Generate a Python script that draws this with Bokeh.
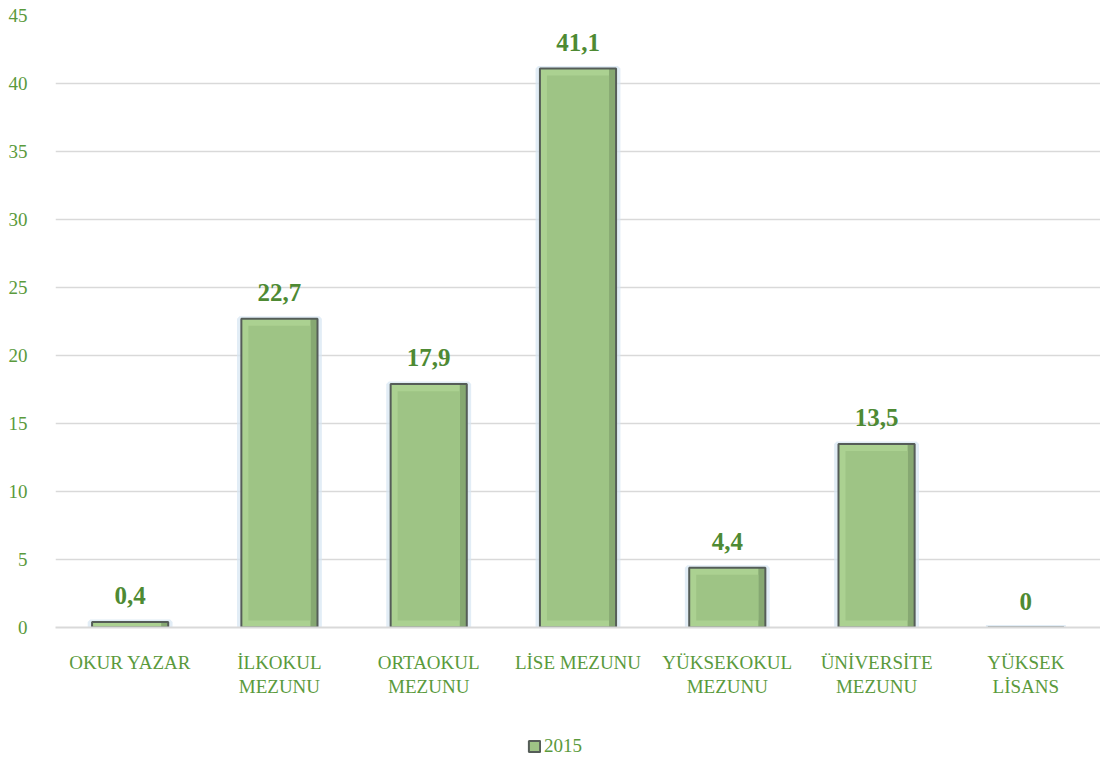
from bokeh.plotting import figure
from bokeh.layouts import column
from bokeh.models import ColumnDataSource, LabelSet, Legend, LegendItem, FixedTicker, Range1d, FactorRange
from bokeh.transform import dodge
from bokeh.embed import file_html
from bokeh.resources import INLINE

categories = ["OKUR YAZAR", "İLKOKUL\nMEZUNU", "ORTAOKUL\nMEZUNU", "LİSE MEZUNU",
              "YÜKSEKOKUL\nMEZUNU", "ÜNİVERSİTE\nMEZUNU", "YÜKSEK\nLİSANS"]
values = [0.4, 22.7, 17.9, 41.1, 4.4, 13.5, 0.0]
value_labels = ["0,4", "22,7", "17,9", "41,1", "4,4", "13,5", "0"]
series_name = "2015"
y_ticks = [0, 5, 10, 15, 20, 25, 30, 35, 40, 45]

FONT = "Liberation Serif"
GREEN_TXT = "#5a9a3c"
GREEN_LBL = "#4e8a33"
BAR_DARK = "#86a872"
BAR_RIM = "#abd191"
BAR_FILL = "#9ec485"
BAR_LINE = "#555d58"
BAR_W = 0.51
BEVEL_Y = 0.52   # bevel depth in value units (style only)
BEVEL_X = 0.047  # bevel depth in category units (style only)

inner_top = [v - BEVEL_Y if v > 2 * BEVEL_Y else float("nan") for v in values]
src = ColumnDataSource(dict(cat=categories, val=values, lab=value_labels, itop=inner_top))

p = figure(x_range=FactorRange(*categories, range_padding=0), y_range=Range1d(0, 45),
           width=1100, height=722, output_backend="svg", toolbar_location=None,
           min_border_left=55, min_border_top=15, min_border_right=0, min_border_bottom=95)
p.background_fill_color = "white"
p.outline_line_color = None

# glow
p.vbar(x="cat", top="val", width=BAR_W + 0.025, source=src, fill_color=None,
       line_color="#d6e5f2", line_width=5, line_alpha=0.7)
# bar body with bevel
p.vbar(x="cat", top="val", width=BAR_W, source=src, fill_color=BAR_DARK, line_color=None)
p.vbar(x=dodge("cat", -BEVEL_X / 2, range=p.x_range), top="val", width=BAR_W - BEVEL_X,
       source=src, fill_color=BAR_RIM, line_color=None)
p.vbar(x="cat", top="itop", bottom=BEVEL_Y, width=BAR_W - 2 * BEVEL_X, source=src,
       fill_color=BAR_FILL, line_color=None)
p.vbar(x="cat", top="val", width=BAR_W, source=src, fill_color=None,
       line_color=BAR_LINE, line_width=2)

labels = LabelSet(x="cat", y="val", text="lab", source=src, text_align="center",
                  text_baseline="bottom", y_offset=18, text_font=FONT,
                  text_font_size="25px", text_font_style="bold", text_color=GREEN_LBL)
p.add_layout(labels)

p.yaxis.ticker = FixedTicker(ticks=y_ticks)
p.yaxis.axis_line_color = None
p.yaxis.major_tick_line_color = None
p.yaxis.minor_tick_line_color = None
p.yaxis.major_label_text_font = FONT
p.yaxis.major_label_text_font_size = "19px"
p.yaxis.major_label_text_color = GREEN_TXT
p.yaxis.major_label_standoff = 22

p.xaxis.axis_line_color = "#d9d9d9"
p.xaxis.axis_line_width = 2
p.xaxis.major_tick_line_color = None
p.xaxis.minor_tick_line_color = None
p.xaxis.major_label_text_font = FONT
p.xaxis.major_label_text_font_size = "19px"
p.xaxis.major_label_text_color = GREEN_TXT
p.xaxis.major_label_standoff = 18
p.xaxis.major_label_text_line_height = 1.15

p.xgrid.grid_line_color = None
p.ygrid.grid_line_color = "#d9d9d9"
p.ygrid.grid_line_width = 1.5

# legend strip
lg = figure(width=1100, height=40, output_backend="svg", toolbar_location=None,
            x_range=Range1d(0, 1), y_range=Range1d(0, 1),
            min_border_left=0, min_border_right=0, min_border_top=0, min_border_bottom=0)
lg.axis.visible = False
lg.grid.visible = False
lg.outline_line_color = None
dummy = lg.quad(left=[-3], right=[-2], bottom=[-3], top=[-2], fill_color=BAR_FILL,
                line_color=BAR_LINE, line_width=2)
legend = Legend(items=[LegendItem(label=series_name, renderers=[dummy])],
                location=(472, 5), orientation="horizontal", border_line_color=None,
                background_fill_alpha=0,
                label_text_font=FONT, label_text_font_size="19px", label_text_color=GREEN_TXT,
                glyph_width=14, glyph_height=14, label_standoff=3, padding=0, margin=0)
lg.add_layout(legend, "center")

layout = column(p, lg, spacing=0)
open("out.html", "w").write(file_html(layout, INLINE))
